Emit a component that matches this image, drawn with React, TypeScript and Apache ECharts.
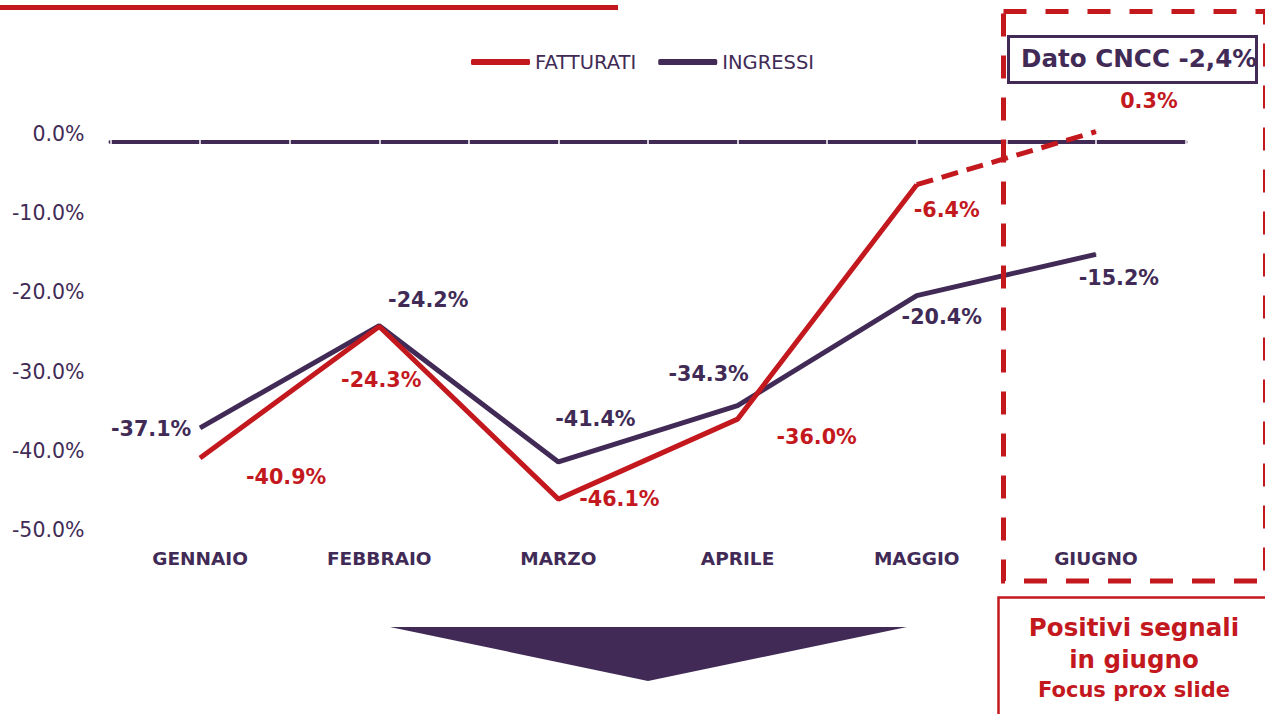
import React, { useEffect, useRef } from "react";
import * as echarts from "echarts";

const categories = ["GENNAIO", "FEBBRAIO", "MARZO", "APRILE", "MAGGIO", "GIUGNO"];
const fatturati = [-40.9, -24.3, -46.1, -36.0, -6.4, 0.3];
const ingressi = [-37.1, -24.2, -41.4, -34.3, -20.4, -15.2];
const yTicks = { min: -50, max: 0, interval: 10 };

const RED = "#C3181E";
const PURPLE = "#412B56";

// label offsets (layout only)
const fattOffsets = [[86, 19], [2, 54], [61, 0], [79, 18], [30, 25], [53, -31]];
const ingrOffsets = [[-49, 1], [49, -26], [37, -43], [-29, -32], [25, 21], [23, 24]];

const fmt = (v: number) => v.toFixed(1) + "%";

export default function App() {
  const ref = useRef<HTMLDivElement>(null);
  useEffect(() => {
    const chart = echarts.init(ref.current!, null, { renderer: "svg" });
    const labelBase = {
      show: true,
      position: "inside",
      fontFamily: "DejaVu Sans",
      fontWeight: "bold",
      fontSize: 20.7,
      align: "center",
      verticalAlign: "middle",
      formatter: (p: any) => fmt(p.value),
    };
    const solidFatt = fatturati.map((v, i) =>
      i < 5 ? { value: v, label: { ...labelBase, color: RED, offset: fattOffsets[i] } } : null
    );
    const dashFatt = fatturati.map((v, i) =>
      i >= 4
        ? { value: v, label: i === 5 ? { ...labelBase, color: RED, offset: fattOffsets[i] } : { show: false } }
        : null
    );
    const ingr = ingressi.map((v, i) => ({
      value: v,
      label: { ...labelBase, color: PURPLE, offset: ingrOffsets[i] },
    }));

    const tickAxisBase = {
      type: "value",
      position: "top",
      min: 0,
      max: 6,
      interval: 0.5,
      offset: -8,
      axisLabel: { show: false },
      splitLine: { show: false },
    };

    chart.setOption({
      animation: false,
      grid: { left: 110.5, right: 79.5, top: 134, bottom: 184, containLabel: false },
      legend: {
        data: ["FATTURATI", "INGRESSI"],
        left: 466,
        top: 47,
        icon: "roundRect",
        itemWidth: 59,
        itemHeight: 6,
        itemGap: 22,
        textStyle: { fontFamily: "DejaVu Sans", fontSize: 19.5, color: PURPLE },
      },
      xAxis: [
        {
          type: "category",
          data: categories,
          position: "bottom",
          axisLine: { show: false, onZero: false },
          axisTick: { show: false },
          axisLabel: {
            margin: 19,
            fontFamily: "DejaVu Sans",
            fontWeight: "bold",
            fontSize: 18.5,
            color: PURPLE,
          },
        },
        {
          ...tickAxisBase,
          axisLine: { show: true, onZero: false, lineStyle: { color: PURPLE, width: 4 } },
          axisTick: { show: true, inside: false, length: 3, lineStyle: { color: "#ffffff", width: 1.5 } },
        },
        {
          ...tickAxisBase,
          axisLine: { show: false, onZero: false },
          axisTick: { show: true, inside: true, length: 3, lineStyle: { color: "#ffffff", width: 1.5 } },
        },
      ],
      yAxis: {
        type: "value",
        min: yTicks.min,
        max: yTicks.max,
        interval: yTicks.interval,
        axisLine: { show: false },
        axisTick: { show: false },
        splitLine: { show: false },
        axisLabel: {
          margin: 26,
          fontFamily: "DejaVu Sans",
          fontSize: 20.5,
          color: PURPLE,
          formatter: (v: number) => fmt(v),
        },
      },
      series: [
        {
          name: "FATTURATI",
          type: "line",
          data: solidFatt,
          clip: false,
          symbol: "circle",
          symbolSize: 1,
          itemStyle: { color: RED },
          lineStyle: { color: RED, width: 5 },
          z: 3,
        },
        {
          name: "FATTURATI_DASH",
          type: "line",
          data: dashFatt,
          clip: false,
          symbol: "circle",
          symbolSize: 1,
          itemStyle: { color: RED },
          lineStyle: { color: RED, width: 5, type: [17, 9] },
          z: 3,
        },
        {
          name: "INGRESSI",
          type: "line",
          data: ingr,
          clip: false,
          symbol: "circle",
          symbolSize: 1,
          itemStyle: { color: PURPLE },
          lineStyle: { color: PURPLE, width: 5 },
          z: 2,
        },
      ],
      graphic: [
        { type: "rect", shape: { x: 0, y: 5, width: 618, height: 5 }, style: { fill: RED }, z: 10 },
        {
          type: "rect",
          shape: { x: 1003.5, y: 11.5, width: 262, height: 569.5 },
          style: { fill: "none", stroke: RED, lineWidth: 5, lineDash: [23, 19] },
          z: 10,
        },
        {
          type: "rect",
          shape: { x: 1008.5, y: 36.5, width: 248, height: 46 },
          style: { fill: "#ffffff", stroke: PURPLE, lineWidth: 3 },
          z: 11,
        },
        {
          type: "text",
          x: 1021,
          y: 58,
          style: {
            text: "Dato CNCC -2,4%",
            fill: PURPLE,
            fontFamily: "DejaVu Sans",
            fontWeight: "bold",
            fontSize: 24.6,
            verticalAlign: "middle",
          },
          z: 12,
        },
        {
          type: "rect",
          shape: { x: 998.5, y: 597.5, width: 280, height: 130 },
          style: { fill: "none", stroke: RED, lineWidth: 2.5 },
          z: 10,
        },
        {
          type: "text",
          x: 1134,
          y: 627,
          style: {
            text: "Positivi segnali",
            fill: RED,
            fontFamily: "DejaVu Sans",
            fontWeight: "bold",
            fontSize: 24.5,
            align: "center",
            verticalAlign: "middle",
          },
          z: 11,
        },
        {
          type: "text",
          x: 1134,
          y: 659,
          style: {
            text: "in giugno",
            fill: RED,
            fontFamily: "DejaVu Sans",
            fontWeight: "bold",
            fontSize: 24.5,
            align: "center",
            verticalAlign: "middle",
          },
          z: 11,
        },
        {
          type: "text",
          x: 1134,
          y: 690,
          style: {
            text: "Focus prox slide",
            fill: RED,
            fontFamily: "DejaVu Sans",
            fontWeight: "bold",
            fontSize: 21,
            align: "center",
            verticalAlign: "middle",
          },
          z: 11,
        },
        {
          type: "polygon",
          shape: { points: [[390, 627], [907, 627], [648, 681]] },
          style: { fill: PURPLE },
          z: 10,
        },
      ],
    });
    return () => chart.dispose();
  }, []);
  return (
    <div
      ref={ref}
      style={{ position: "fixed", left: 0, top: 0, width: 1265, height: 714, background: "#ffffff" }}
    />
  );
}
